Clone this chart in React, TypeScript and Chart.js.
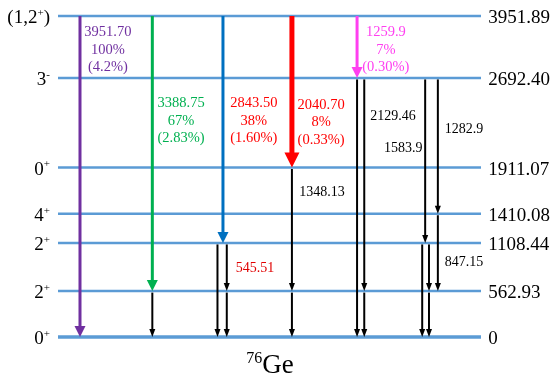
import React, { useEffect, useRef } from "react";
import { Chart, registerables } from "chart.js";

Chart.register(...registerables);

// ---- Levels (top to bottom) ----
const levelEnergies = ["3951.89", "2692.40", "1911.07", "1410.08", "1108.44", "562.93", "0"];
const levelSpins = ["(1,2⁺)", "3⁻", "0⁺", "4⁺", "2⁺", "2⁺", "0⁺"];
// schematic drawing heights of the levels (not to energy scale)
const levelHeights = [10, 8.07, 5.28, 3.84, 2.93, 1.43, 0];

// ---- Primary (coloured) transitions from the 3951.89 level ----
const primaryFrom = [0, 0, 0, 0, 0];
const primaryTo = [6, 5, 4, 2, 1];
const primaryEnergy = ["3951.70", "3388.75", "2843.50", "2040.70", "1259.9"];
const primaryIntensity = ["100%", "67%", "38%", "8%", "7%"];
const primaryBranch = ["(4.2%)", "(2.83%)", "(1.60%)", "(0.33%)", "(0.30%)"];
const primaryColumn = [5.2, 22.3, 39.0, 55.3, 70.7];

// ---- Cascade (black) transitions ----
const cascadeFrom = [5, 4, 4, 5, 2, 5, 1, 1, 5, 1, 4, 4, 5, 1, 3];
const cascadeTo = [6, 6, 5, 6, 5, 6, 6, 5, 6, 4, 6, 5, 6, 3, 5];
const cascadeColumn = [22.3, 37.7, 39.9, 39.9, 55.3, 55.3, 70.7, 72.4, 72.4, 86.8, 86.1, 87.7, 87.7, 89.8, 89.8];
const cascadeLabel = ["", "", "545.51", "", "1348.13", "", "", "2129.46", "", "1583.9", "", "", "", "1282.9", "847.15"];

const nucleus = "⁷⁶Ge";

// ---- Styles / layout ----
const primaryColors = ["#7030A0", "#00B050", "#0070C0", "#FF0000", "#FF3FF0"];
const primaryTextColors = ["#7030A0", "#00B050", "#FF0000", "#FF0000", "#FF3FF0"];
const primaryWidths = [3, 3, 3, 5, 3];
const primaryHeadW = [11, 11, 11, 15, 11];
const primaryHeadL = [11, 11, 11, 15, 11];
const primaryLabelX = [11.8, 29.1, 46.3, 62.2, 77.5];
const primaryLabelY = [9.49, 7.27, 7.27, 7.23, 9.49];
const cascadeLabelX = [0, 0, 46.6, 0, 62.4, 0, 0, 79.2, 0, 81.6, 0, 0, 0, 96.0, 96.0];
const cascadeLabelY = [0, 0, 2.14, 0, 4.51, 0, 0, 6.88, 0, 5.88, 0, 0, 0, 6.47, 2.33];
const cascadeTextColors = ["", "", "#E00000", "", "#000", "", "", "#000", "", "#000", "", "", "", "#000", "#000"];

const SERIF = '"Liberation Serif", "Times New Roman", serif';
const LEVEL_COLOR = "#5B9BD5";

const supMap: Record<string, string> = {
  "⁺": "+", "⁻": "-", "⁰": "0", "¹": "1", "²": "2", "³": "3", "⁴": "4",
  "⁵": "5", "⁶": "6", "⁷": "7", "⁸": "8", "⁹": "9",
};

function drawRich(ctx: CanvasRenderingContext2D, text: string, x: number, y: number, size: number, supSize: number, align: "left" | "right" | "center", color: string) {
  const runs: { t: string; sup: boolean }[] = [];
  for (const ch of text) {
    const sup = ch in supMap;
    const c = sup ? supMap[ch] : ch;
    const last = runs[runs.length - 1];
    if (last && last.sup === sup) last.t += c;
    else runs.push({ t: c, sup });
  }
  let total = 0;
  const widths = runs.map((r) => {
    ctx.font = `${r.sup ? supSize : size}px ${SERIF}`;
    const w = ctx.measureText(r.t).width;
    total += w;
    return w;
  });
  let cx = align === "left" ? x : align === "right" ? x - total : x - total / 2;
  ctx.fillStyle = color;
  ctx.textAlign = "left";
  ctx.textBaseline = "alphabetic";
  runs.forEach((r, i) => {
    ctx.font = `${r.sup ? supSize : size}px ${SERIF}`;
    ctx.fillText(r.t, cx, r.sup ? y - size * 0.38 : y);
    cx += widths[i];
  });
}

function drawArrow(ctx: CanvasRenderingContext2D, x: number, y1: number, y2: number, color: string, width: number, hw: number, hl: number) {
  ctx.save();
  ctx.strokeStyle = color;
  ctx.fillStyle = color;
  ctx.lineWidth = width;
  ctx.lineCap = "butt";
  ctx.beginPath();
  ctx.moveTo(x, y1);
  ctx.lineTo(x, y2 - hl + 1);
  ctx.stroke();
  ctx.beginPath();
  ctx.moveTo(x - hw / 2, y2 - hl);
  ctx.lineTo(x + hw / 2, y2 - hl);
  ctx.lineTo(x, y2);
  ctx.closePath();
  ctx.fill();
  ctx.restore();
}

const schemePlugin = {
  id: "levelScheme",
  afterDatasetsDraw(chart: any) {
    const ctx: CanvasRenderingContext2D = chart.ctx;
    const xs = chart.scales.x;
    const ys = chart.scales.y;
    // cascade arrows
    cascadeFrom.forEach((f, i) => {
      const x = xs.getPixelForValue(cascadeColumn[i]);
      const y1 = ys.getPixelForValue(levelHeights[f]) + 1.5;
      const y2 = ys.getPixelForValue(levelHeights[cascadeTo[i]]);
      drawArrow(ctx, x, y1, y2, "#000", 2, 6, 8);
    });
    // primary arrows
    primaryFrom.forEach((f, i) => {
      const x = xs.getPixelForValue(primaryColumn[i]);
      const y1 = ys.getPixelForValue(levelHeights[f]);
      const y2 = ys.getPixelForValue(levelHeights[primaryTo[i]]);
      drawArrow(ctx, x, y1, y2, primaryColors[i], primaryWidths[i], primaryHeadW[i], primaryHeadL[i]);
    });
    ctx.save();
    // primary labels
    primaryEnergy.forEach((e, i) => {
      const x = xs.getPixelForValue(primaryLabelX[i]);
      const y = ys.getPixelForValue(primaryLabelY[i]);
      ctx.font = `14.5px ${SERIF}`;
      ctx.fillStyle = primaryTextColors[i];
      ctx.textAlign = "center";
      ctx.textBaseline = "middle";
      ctx.fillText(e, x, y);
      ctx.fillText(primaryIntensity[i], x, y + 17.5);
      ctx.fillText(primaryBranch[i], x, y + 35);
    });
    // cascade labels
    cascadeLabel.forEach((l, i) => {
      if (!l) return;
      const x = xs.getPixelForValue(cascadeLabelX[i]);
      const y = ys.getPixelForValue(cascadeLabelY[i]);
      ctx.font = `14px ${SERIF}`;
      ctx.fillStyle = cascadeTextColors[i];
      ctx.textAlign = "center";
      ctx.textBaseline = "middle";
      ctx.fillText(l, x, y);
    });
    // level labels
    levelHeights.forEach((h, i) => {
      const y = ys.getPixelForValue(h);
      drawRich(ctx, levelSpins[i], xs.getPixelForValue(-1.9), y + 7, 19, 11, "right", "#000");
      drawRich(ctx, levelEnergies[i], xs.getPixelForValue(101.7), y + 7, 19, 11, "left", "#000");
    });
    // nucleus title
    drawRich(ctx, nucleus, xs.getPixelForValue(50.1), ys.getPixelForValue(0) + 36, 27, 16, "center", "#000");
    ctx.restore();
  },
};

export default function App() {
  const ref = useRef<HTMLCanvasElement | null>(null);
  useEffect(() => {
    if (!ref.current) return;
    const levelDatasets = levelHeights.map((h, i) => ({
      label: levelEnergies[i],
      data: [
        { x: 0, y: h },
        { x: 100, y: h },
      ],
      showLine: true,
      borderColor: LEVEL_COLOR,
      borderWidth: i === levelHeights.length - 1 ? 3.5 : 2.5,
      pointRadius: 0,
      clip: false as any,
    }));
    const chart = new Chart(ref.current, {
      type: "scatter",
      data: { datasets: levelDatasets },
      options: {
        animation: false,
        responsive: false,
        devicePixelRatio: 1,
        layout: { padding: { left: 58, right: 72, top: 16, bottom: 41 } },
        plugins: { legend: { display: false }, tooltip: { enabled: false }, title: { display: false } },
        scales: {
          x: { type: "linear", min: 0, max: 100, display: false },
          y: { type: "linear", min: 0, max: 10, display: false },
        },
      },
      plugins: [schemePlugin],
    });
    return () => chart.destroy();
  }, []);
  return (
    <div style={{ position: "fixed", left: 0, top: 0, width: 553, height: 378, background: "#fff" }}>
      <canvas ref={ref} width={553} height={378} />
    </div>
  );
}
